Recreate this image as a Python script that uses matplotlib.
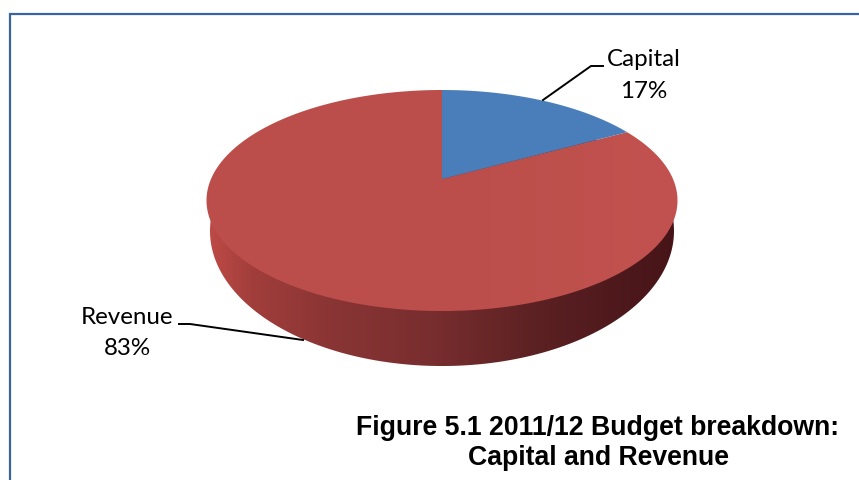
import numpy as np
import matplotlib
matplotlib.use("Agg")
import matplotlib.pyplot as plt
from matplotlib.colors import LinearSegmentedColormap
from matplotlib.patches import PathPatch, Polygon
from matplotlib.path import Path

# --- Data ---
CATEGORIES = ["Capital", "Revenue"]
SHARES = [17, 83]
TITLE_LINES = ["Figure 5.1 2011/12 Budget breakdown:", "Capital and Revenue"]

# --- Styling ---
WIDTH, HEIGHT = 859, 481
FRAME = "#38659f"
BLUE = "#4a7ebb"
SIDE_STOPS = [(0.0, "#bd4a46"), (0.09, "#a13e3b"), (0.25, "#8b3535"),
              (0.48, "#782d2e"), (0.72, "#5a2022"), (1.0, "#461418")]
TOP_STOPS = [(0.0, "#bb4e4a"), (0.6, "#bc4f4b"), (1.0, "#c2524f")]

# Pie geometry: a tilted disc, so the centre sits above the middle of the ellipse
CX, CY = 442.0, 180.0
SLANT = 0.1946
Y_SCALE = -71.3
X_SCALE = 231.0


def rim(start, stop, n=240):
    """Points of the top rim between two fractions of a turn, clockwise from 12."""
    a = 2 * np.pi * np.linspace(start, stop, n)
    u, v = np.sin(a), np.cos(a)
    w = 1 + SLANT * v
    return np.column_stack([CX + X_SCALE * u / w, (Y_SCALE * v + CY) / w])


def lower_rim(pts):
    """Drop the top rim onto the bottom edge of the disc."""
    out = pts.copy()
    out[:, 0] = CX + (pts[:, 0] - CX) * 232.0 / 235.5
    out[:, 1] = 232.0 + (pts[:, 1] - 201.5) * 135.0 / 110.5
    return out


def gradient_fill(ax, verts, stops, zorder):
    """Fill a polygon with a left-to-right colour ramp."""
    cmap = LinearSegmentedColormap.from_list("ramp", stops)
    path = Path(np.vstack([verts, verts[0]]), closed=True)
    clip = PathPatch(path, transform=ax.transData, facecolor="none", edgecolor="none")
    ax.add_patch(clip)
    x0, x1 = verts[:, 0].min(), verts[:, 0].max()
    y0, y1 = verts[:, 1].min(), verts[:, 1].max()
    img = ax.imshow(np.linspace(0, 1, 512)[None, :], cmap=cmap, vmin=0, vmax=1,
                    extent=[x0, x1, y1, y0], aspect="auto", zorder=zorder,
                    interpolation="bilinear")
    img.set_clip_path(clip)


fig = plt.figure(figsize=(WIDTH / 100, HEIGHT / 100), dpi=100)
ax = fig.add_axes([0, 0, 1, 1])

capital_end = SHARES[0] / sum(SHARES)
centre = np.array([[CX, CY]])
capital_rim = rim(0, capital_end, 80)
revenue_rim = rim(capital_end, 1.0)

# side wall first, the top face covers whatever is behind it
gradient_fill(ax, lower_rim(revenue_rim), SIDE_STOPS, 2)
gradient_fill(ax, np.vstack([centre, revenue_rim]), TOP_STOPS, 3)
ax.add_patch(Polygon(np.vstack([centre, capital_rim]), closed=True,
                     facecolor=BLUE, edgecolor="none", zorder=4))

ax.set_xlim(0, WIDTH)
ax.set_ylim(HEIGHT, 0)
ax.axis("off")

# border of the chart area, open at the right and bottom of the page
ax.plot([9.5, 9.5, WIDTH - 1], [HEIGHT, 14.5, 14.5], color=FRAME, lw=1.6,
        solid_joinstyle="miter", zorder=5)

# leader lines
ax.plot([543, 591, 603], [101, 67, 67], color="black", lw=1.4, zorder=6)
ax.plot([303, 190, 179], [341, 325, 325], color="black", lw=1.4, zorder=6)

label_font = dict(family="Lato", fontsize=17.4, color="black", ha="center",
                  va="center", zorder=6)
ax.text(644, 60, CATEGORIES[0], **label_font)
ax.text(644, 92, f"{SHARES[0]}%", **label_font)
ax.text(127, 318, CATEGORIES[1], **label_font)
ax.text(127, 349, f"{SHARES[1]}%", **label_font)

title_font = dict(family="Liberation Sans", fontsize=19.2, fontweight="bold",
                  color="black", ha="center", va="center", zorder=6)
ax.text(598, 428, TITLE_LINES[0], **title_font)
ax.text(598, 458, TITLE_LINES[1], **title_font)

fig.savefig("out.png", dpi=100, facecolor="white")
